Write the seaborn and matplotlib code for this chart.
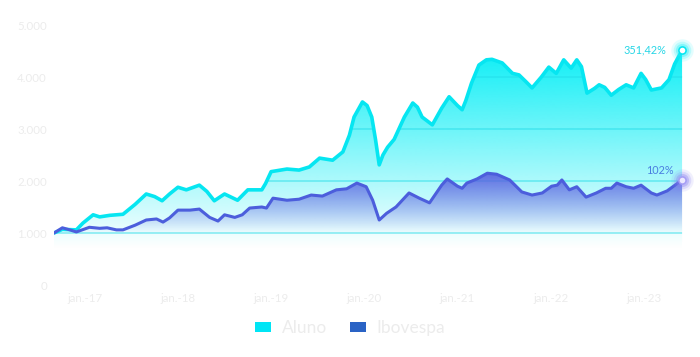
import numpy as np
import pandas as pd
import seaborn as sns
import matplotlib.pyplot as plt
from matplotlib.patches import Polygon, Patch

# dados (tempo em anos decimais)
t_aluno = [2016.67, 2016.76, 2016.91, 2016.98, 2017.09, 2017.16, 2017.27, 2017.41, 2017.54,
           2017.66, 2017.75, 2017.83, 2017.91, 2018.00, 2018.09, 2018.23, 2018.31, 2018.39,
           2018.50, 2018.64, 2018.75, 2018.90, 2018.94, 2019.00, 2019.17, 2019.30, 2019.41,
           2019.52, 2019.66, 2019.77, 2019.84, 2019.89, 2019.98, 2020.03, 2020.08, 2020.12,
           2020.16, 2020.20, 2020.25, 2020.32, 2020.43, 2020.52, 2020.57, 2020.62, 2020.73,
           2020.83, 2020.91, 2021.00, 2021.05, 2021.09, 2021.15, 2021.23, 2021.31, 2021.37,
           2021.48, 2021.59, 2021.66, 2021.74, 2021.80, 2021.90, 2021.98, 2022.06, 2022.14,
           2022.22, 2022.28, 2022.33, 2022.39, 2022.47, 2022.52, 2022.58, 2022.65, 2022.73,
           2022.81, 2022.89, 2022.97, 2023.02, 2023.08, 2023.19, 2023.27, 2023.33, 2023.41]
aluno = [1000, 1070, 1060, 1190, 1350, 1310, 1340, 1360, 1550,
         1750, 1700, 1620, 1750, 1880, 1830, 1920, 1800, 1620,
         1750, 1630, 1830, 1830, 1950, 2180, 2230, 2210, 2270,
         2440, 2400, 2560, 2880, 3230, 3520, 3450, 3230, 2800,
         2310, 2500, 2650, 2800, 3230, 3500, 3420, 3230, 3080,
         3400, 3620, 3450, 3370, 3550, 3880, 4230, 4330, 4340,
         4270, 4070, 4040, 3900, 3790, 4000, 4190, 4070, 4330,
         4170, 4330, 4200, 3690, 3780, 3850, 3800, 3650, 3760,
         3850, 3790, 4070, 3950, 3750, 3790, 3950, 4250, 4514]

t_ibov = [2016.67, 2016.76, 2016.84, 2016.91, 2017.05, 2017.16, 2017.24, 2017.34, 2017.41,
          2017.54, 2017.66, 2017.77, 2017.84, 2017.91, 2018.00, 2018.13, 2018.23, 2018.34,
          2018.43, 2018.50, 2018.61, 2018.69, 2018.77, 2018.90, 2018.95, 2019.02, 2019.17,
          2019.30, 2019.43, 2019.55, 2019.70, 2019.81, 2019.92, 2020.02, 2020.09, 2020.16,
          2020.24, 2020.34, 2020.48, 2020.59, 2020.70, 2020.83, 2020.89, 2021.00, 2021.05,
          2021.10, 2021.21, 2021.32, 2021.42, 2021.56, 2021.69, 2021.80, 2021.91, 2022.01,
          2022.07, 2022.12, 2022.20, 2022.28, 2022.38, 2022.49, 2022.59, 2022.65, 2022.71,
          2022.81, 2022.89, 2022.97, 2023.08, 2023.14, 2023.25, 2023.41]
ibov = [1000, 1100, 1060, 1020, 1110, 1090, 1100, 1060, 1060,
        1150, 1250, 1270, 1210, 1290, 1440, 1440, 1460, 1300,
        1230, 1350, 1300, 1350, 1480, 1500, 1480, 1670, 1630,
        1650, 1730, 1710, 1830, 1850, 1960, 1890, 1630, 1250,
        1380, 1500, 1770, 1670, 1580, 1920, 2040, 1900, 1860,
        1960, 2040, 2150, 2130, 2020, 1790, 1730, 1770, 1900,
        1920, 2020, 1830, 1890, 1690, 1770, 1860, 1860, 1960,
        1890, 1860, 1920, 1770, 1730, 1810, 2020]

anos = [2017, 2018, 2019, 2020, 2021, 2022, 2023]
rotulos_x = ["jan.-17", "jan.-18", "jan.-19", "jan.-20", "jan.-21", "jan.-22", "jan.-23"]
niveis_y = [0, 1000, 2000, 3000, 4000, 5000]
rotulos_y = ["0", "1.000", "2.000", "3.000", "4.000", "5.000"]
txt_aluno = "351,42%"
txt_ibov = "102%"

CIANO = "#06e6f1"
AZUL = "#4c5edc"
CINZA = "#ececec"

df = pd.concat([
    pd.DataFrame({"t": t_aluno, "valor": aluno, "serie": "Aluno"}),
    pd.DataFrame({"t": t_ibov, "valor": ibov, "serie": "Ibovespa"}),
])

sns.set_style("white")
plt.rcParams["font.family"] = ["Lato", "DejaVu Sans"]

fig = plt.figure(figsize=(7, 3.57), dpi=100)
ax = fig.add_axes([54 / 700, 72 / 357, 629 / 700, 260 / 357])

x0, x1 = t_aluno[0], t_aluno[-1]


def preenche_gradiente(x, y, cor, lo, hi, amax, z):
    xy = np.vstack([[x[0], 0], np.column_stack([x, y]), [x[-1], 0]])
    clip = Polygon(xy, closed=True, facecolor="none", edgecolor="none")
    ax.add_patch(clip)
    yy = np.linspace(0, 5000, 400)
    alpha = np.clip((yy - lo) / (hi - lo), 0, 1) * amax
    rgb = plt.matplotlib.colors.to_rgb(cor)
    img = np.zeros((400, 1, 4))
    img[:, 0, :3] = rgb
    img[:, 0, 3] = alpha
    im = ax.imshow(img, aspect="auto", extent=[x0, x1, 0, 5000], origin="lower",
                   zorder=z, interpolation="bilinear")
    im.set_clip_path(clip)
    return clip


clip_aluno = preenche_gradiente(t_aluno, aluno, "#0eeff6", 700, 4500, 1.0, 1)
for nv in niveis_y[1:5]:
    g = ax.axhline(nv, color="#22dbe8", lw=1.1, alpha=0.55, zorder=1.5)
    g.set_clip_path(clip_aluno)
preenche_gradiente(t_ibov, ibov, "#5a5fe0", 1000, 2200, 0.95, 2)

sns.lineplot(data=df[df.serie == "Aluno"], x="t", y="valor", color=CIANO, lw=2.6,
             estimator=None, sort=False, ax=ax, zorder=3, legend=False)
sns.lineplot(data=df[df.serie == "Ibovespa"], x="t", y="valor", color=AZUL, lw=2.2,
             estimator=None, sort=False, ax=ax, zorder=3.5, legend=False)
for ln in ax.lines[-2:]:
    ln.set_solid_capstyle("round")
    ln.set_solid_joinstyle("round")

# marcadores finais com brilho
for s, a in [(260, 0.12), (160, 0.2), (90, 0.35)]:
    ax.scatter([x1], [aluno[-1]], s=s, color="#20f0f8", alpha=a, lw=0, zorder=5, clip_on=False)
    ax.scatter([t_ibov[-1]], [ibov[-1]], s=s, color="#8a82f0", alpha=a, lw=0, zorder=5,
               clip_on=False)
ax.scatter([x1], [aluno[-1]], s=40, color=CIANO, lw=0, zorder=6, clip_on=False)
ax.scatter([x1], [aluno[-1]], s=16, color="white", lw=0, zorder=7, clip_on=False)
ax.scatter([t_ibov[-1]], [ibov[-1]], s=40, color="#a69ef5", lw=0, zorder=6, clip_on=False)
ax.scatter([t_ibov[-1]], [ibov[-1]], s=16, color="#ece9ff", lw=0, zorder=7, clip_on=False)

ax.annotate(txt_aluno, (x1, aluno[-1]), xytext=(-11, 0), textcoords="offset points",
            ha="right", va="center", color="#27d6e6", fontsize=7.8)
ax.annotate(txt_ibov, (t_ibov[-1], ibov[-1]), xytext=(-6, 7), textcoords="offset points",
            ha="right", va="center", color="#4a7fe0", fontsize=7.8)

ax.set_xlim(x0, x1 + 0.01)
ax.set_ylim(0, 5000)
ax.set_xticks(anos)
ax.set_xticklabels(rotulos_x)
ax.set_yticks(niveis_y)
ax.set_yticklabels(rotulos_y)
ax.tick_params(axis="both", length=0, colors=CINZA, labelsize=8.3)
ax.tick_params(axis="y", pad=5)
ax.tick_params(axis="x", pad=6)
ax.set_xlabel("")
ax.set_ylabel("")
for sp in ax.spines.values():
    sp.set_visible(False)
ax.grid(False)

handles = [Patch(facecolor="#00e5f5", edgecolor="none", label="Aluno"),
           Patch(facecolor="#2a63c5", edgecolor="none", label="Ibovespa")]
leg = fig.legend(handles=handles, loc="center", bbox_to_anchor=(0.5, 29 / 357), ncol=2,
                 frameon=False, fontsize=12.5, handlelength=0.95, handleheight=0.55,
                 handletextpad=0.6, columnspacing=1.3)
for tx in leg.get_texts():
    tx.set_color(CINZA)

fig.savefig("out.png", dpi=100)
